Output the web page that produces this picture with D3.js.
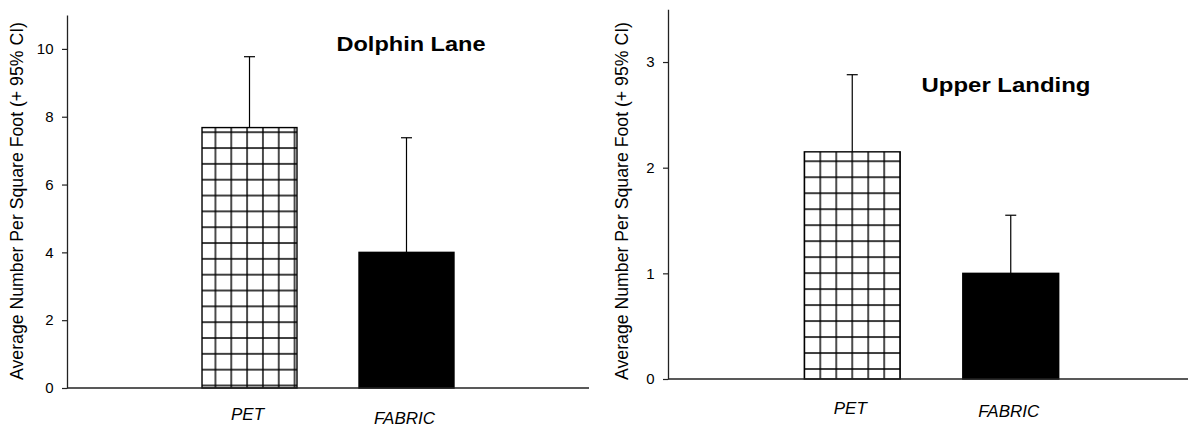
<!DOCTYPE html>
<html>
<head>
<meta charset="utf-8">
<script src="https://cdn.jsdelivr.net/npm/d3@7"></script>
<style>
  html, body { margin: 0; padding: 0; background: #fff; }
  svg { display: block; }
  text { font-family: "Liberation Sans", Arial, sans-serif; fill: #000; }
</style>
</head>
<body>
<svg id="chart" width="1188" height="429"></svg>
<script>
// Sites, materials and the mean counts with their upper 95% confidence limits
const categories = ["PET", "FABRIC"];
const siteNames = ["Dolphin Lane", "Upper Landing"];

const dolphinMeans = [7.68, 4.0];
const dolphinUpperCI = [9.77, 7.38];
const dolphinTicks = [0, 2, 4, 6, 8, 10];
const dolphinMax = 11;

const landingMeans = [2.15, 1.0];
const landingUpperCI = [2.88, 1.55];
const landingTicks = [0, 1, 2, 3];
const landingMax = 3.5;

const yTitle = "Average Number Per Square Foot (+ 95% CI)";

// Layout of each panel
const panels = [
  {
    id: "dolphin", title: siteNames[0], means: dolphinMeans, upper: dolphinUpperCI,
    ticks: dolphinTicks, yMax: dolphinMax,
    x0: 67, x1: 589, yTop: 15, yBottom: 388,
    titleX: 411, titleY: 51, titleLen: 149,
    yTitleX: 23, yTitleY: 201,
    labelY: [420, 424],
    hatchPhaseX: -2.4, hatchPhaseY: -2.5
  },
  {
    id: "landing", title: siteNames[1], means: landingMeans, upper: landingUpperCI,
    ticks: landingTicks, yMax: landingMax,
    x0: 668, x1: 1195, yTop: 9.2, yBottom: 379,
    titleX: 1006, titleY: 92, titleLen: 169,
    yTitleX: 628, yTitleY: 201,
    labelY: [414, 417],
    hatchPhaseX: 0, hatchPhaseY: -10
  }
];

const svg = d3.select("#chart");
svg.append("rect").attr("width", 1188).attr("height", 429).attr("fill", "#fff");
const defs = svg.append("defs");

panels.forEach(p => {
  const x = d3.scaleBand()
    .domain(categories)
    .range([p.x0, p.x1])
    .paddingInner(0.395)
    .paddingOuter(0.86);

  const y = d3.scaleLinear()
    .domain([0, p.yMax])
    .range([p.yBottom, p.yTop]);

  const g = svg.append("g").attr("class", "panel-" + p.id);

  // Cross-hatch fill for the PET bar: six columns across the bar
  const cell = x.bandwidth() / 6;
  const firstLineX = x(categories[0]) + cell + p.hatchPhaseX;
  const firstLineY = y(0) + p.hatchPhaseY;
  const pat = defs.append("pattern")
    .attr("id", "hatch-" + p.id)
    .attr("patternUnits", "userSpaceOnUse")
    .attr("width", cell)
    .attr("height", cell)
    .attr("x", firstLineX - cell / 2)
    .attr("y", firstLineY - cell / 2);
  pat.append("rect").attr("width", cell).attr("height", cell).attr("fill", "#fff");
  pat.append("path")
    .attr("d", `M${cell / 2},0V${cell}M0,${cell / 2}H${cell}`)
    .attr("stroke", "#000")
    .attr("stroke-width", 1.4)
    .attr("fill", "none");

  // Bars
  g.selectAll("rect.bar")
    .data(categories)
    .join("rect")
    .attr("class", "bar")
    .attr("x", d => x(d))
    .attr("width", x.bandwidth())
    .attr("y", (d, i) => y(p.means[i]))
    .attr("height", (d, i) => y(0) - y(p.means[i]))
    .attr("fill", (d, i) => i === 0 ? `url(#hatch-${p.id})` : "#000")
    .attr("stroke", "#000")
    .attr("stroke-width", 1.4);

  // Upper confidence limits
  const capHalf = 5.5;
  const err = g.selectAll("g.err")
    .data(categories)
    .join("g")
    .attr("class", "err")
    .attr("stroke", "#000")
    .attr("stroke-width", 1.2);
  err.append("line")
    .attr("x1", d => x(d) + x.bandwidth() / 2)
    .attr("x2", d => x(d) + x.bandwidth() / 2)
    .attr("y1", (d, i) => y(p.means[i]))
    .attr("y2", (d, i) => y(p.upper[i]));
  err.append("line")
    .attr("x1", d => x(d) + x.bandwidth() / 2 - capHalf)
    .attr("x2", d => x(d) + x.bandwidth() / 2 + capHalf)
    .attr("y1", (d, i) => y(p.upper[i]))
    .attr("y2", (d, i) => y(p.upper[i]));

  // Y axis
  const yAxis = g.append("g")
    .attr("transform", `translate(${p.x0},0)`)
    .call(d3.axisLeft(y).tickValues(p.ticks).tickSize(5).tickSizeOuter(0).tickPadding(8.5)
      .tickFormat(d3.format("d")));
  yAxis.select(".domain").attr("stroke", "#222").attr("stroke-width", 1.3);
  yAxis.selectAll(".tick line").attr("stroke", "#222").attr("stroke-width", 1.2);
  yAxis.selectAll(".tick text")
    .style("font-family", "'Liberation Sans', Arial, sans-serif")
    .style("font-size", "15px")
    .attr("fill", "#000");

  // X axis baseline
  g.append("line")
    .attr("x1", p.x0).attr("x2", p.x1)
    .attr("y1", y(0)).attr("y2", y(0))
    .attr("stroke", "#222").attr("stroke-width", 1.5);

  // Category labels
  g.selectAll("text.cat")
    .data(categories)
    .join("text")
    .attr("class", "cat")
    .attr("x", d => x(d) + x.bandwidth() / 2 - 2)
    .attr("y", (d, i) => p.labelY[i])
    .attr("text-anchor", "middle")
    .style("font-size", "17px")
    .style("font-style", "italic")
    .text(d => d);

  // Y axis title
  g.append("text")
    .attr("transform", `translate(${p.yTitleX},${p.yTitleY}) rotate(-90)`)
    .attr("text-anchor", "middle")
    .attr("textLength", 358)
    .attr("lengthAdjust", "spacingAndGlyphs")
    .style("font-size", "17.5px")
    .text(yTitle);

  // Panel title
  g.append("text")
    .attr("x", p.titleX)
    .attr("y", p.titleY)
    .attr("text-anchor", "middle")
    .attr("textLength", p.titleLen)
    .attr("lengthAdjust", "spacingAndGlyphs")
    .style("font-size", "20.5px")
    .style("font-weight", "bold")
    .text(p.title);
});
</script>
</body>
</html>
